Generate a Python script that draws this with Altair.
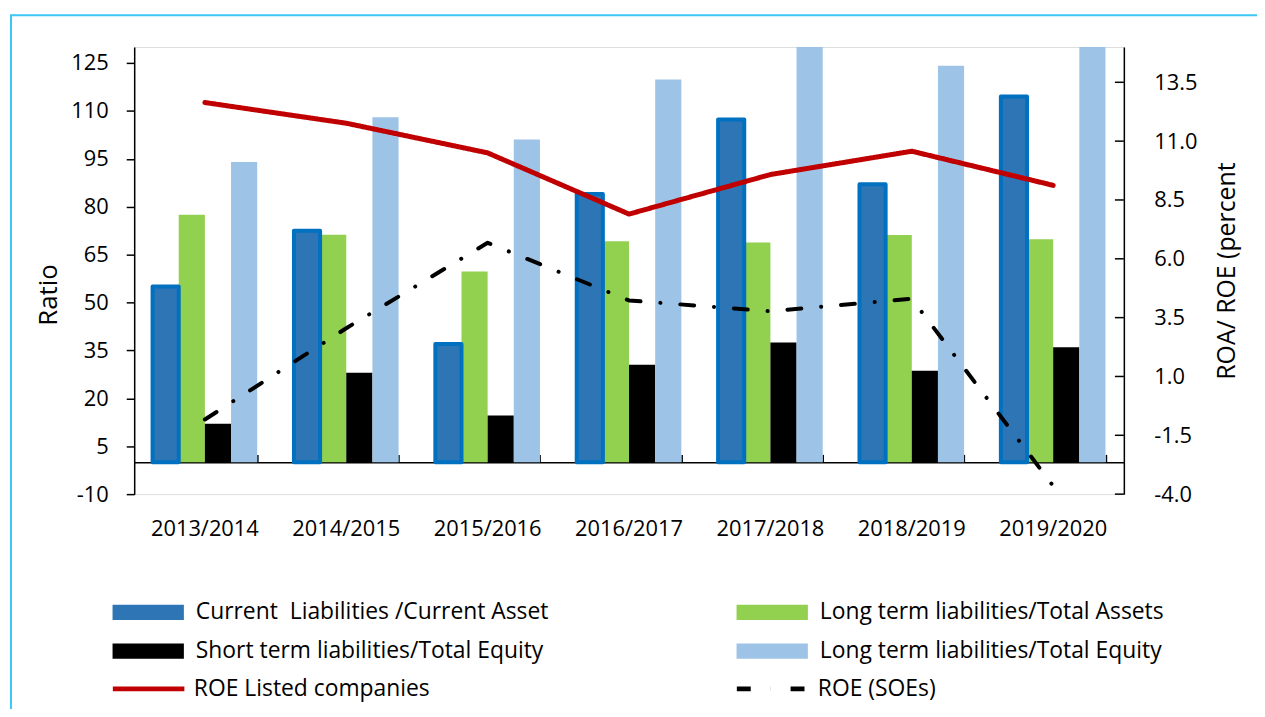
import altair as alt
import pandas as pd

years = ["2013/2014", "2014/2015", "2015/2016", "2016/2017", "2017/2018", "2018/2019", "2019/2020"]
bar_names = [
    "Current\u00a0 Liabilities /Current Asset",
    "Long term liabilities/Total Assets",
    "Short term liabilities/Total Equity",
    "Long term liabilities/Total Equity",
]
cl_ca = [55.0, 72.5, 37.0, 84.0, 107.3, 87.0, 114.5]
ltl_ta = [77.5, 71.2, 59.7, 69.2, 68.8, 71.1, 69.8]
stl_te = [12.0, 28.0, 14.6, 30.5, 37.5, 28.6, 36.0]
ltl_te = [94.0, 108.0, 101.0, 119.8, 133.0, 124.1, 136.0]

line_names = ["ROE Listed companies", "ROE (SOEs)"]
roe_listed = [12.64, 11.76, 10.5, 7.9, 9.58, 10.57, 9.12]
roe_soe = [-0.83, 3.05, 6.68, 4.23, 3.77, 4.3, -3.65]

left_ticks = [-10, 5, 20, 35, 50, 65, 80, 95, 110, 125]
right_ticks = [-4.0, -1.5, 1.0, 3.5, 6.0, 8.5, 11.0, 13.5]

bar_fill = ["#2E75B6", "#92D050", "#000000", "#9DC3E6"]
bar_border = "#0070C0"
line_colors = ["#C00000", "#000000"]

FONT = "Open Sans"
W, H = 996, 450
MINUS = "\u2212"

rows = []
for name, vals in zip(bar_names, [cl_ca, ltl_ta, stl_te, ltl_te]):
    for y, v in zip(years, vals):
        rows.append({"year": y, "series": name, "ratio": v})
bars_df = pd.DataFrame(rows)

lrows = []
for name, vals in zip(line_names, [roe_listed, roe_soe]):
    for y, v in zip(years, vals):
        lrows.append({"year": y, "line": name, "roe": v})
lines_df = pd.DataFrame(lrows)

ticks_df = pd.DataFrame({"roe": right_ticks})

xscale = alt.Scale(domain=years, paddingInner=0.26, paddingOuter=0.13)
xoff_scale = alt.Scale(domain=bar_names, paddingInner=0, paddingOuter=0)
yleft_scale = alt.Scale(domain=[-10, 130], nice=False, zero=False)

bar_path = "M-1,-0.21H1V0.21H-1Z"
bar_legend = alt.Legend(
    orient="none", legendX=-22, legendY=558, columns=2, direction="horizontal", title=None,
    symbolType=bar_path, symbolSize=5184, symbolStrokeWidth=0,
    labelFont=FONT, labelFontSize=23, labelColor="#000000", labelOffset=12,
    columnPadding=188, rowPadding=16, clipHeight=22, padding=0, labelLimit=0,
)

bars = alt.Chart(bars_df).mark_bar(clip=True).encode(
    x=alt.X("year:N", scale=xscale, sort=years,
            axis=alt.Axis(orient="bottom", title=None, domain=False, ticks=False,
                          labelFont=FONT, labelFontSize=22, labelColor="#000000",
                          labelPadding=25, labelAngle=0)),
    xOffset=alt.XOffset("series:N", sort=bar_names, scale=xoff_scale),
    y=alt.Y("ratio:Q", scale=yleft_scale,
            axis=alt.Axis(orient="left", values=left_ticks, title="Ratio", grid=False,
                          labelExpr=f"replace(format(datum.value, 'd'), '{MINUS}', '-')",
                          domainColor="#000000", domainWidth=1.5, tickColor="#000000",
                          tickWidth=1.5, tickSize=8, labelFont=FONT, labelFontSize=22,
                          labelColor="#000000", labelPadding=18, titleFont=FONT,
                          titleFontSize=26, titleFontWeight="normal", titleColor="#000000",
                          titleX=-73, titleY=249, titleAngle=-90)),
    fill=alt.Fill("series:N", sort=bar_names,
                  scale=alt.Scale(domain=bar_names, range=bar_fill), legend=bar_legend),
)

border = alt.Chart(bars_df).transform_filter(
    alt.datum.series == bar_names[0]
).mark_bar(clip=True, filled=False, fill="transparent", stroke=bar_border,
           strokeWidth=4, strokeJoin="round").encode(
    x=alt.X("year:N", scale=xscale, sort=years, axis=None),
    xOffset=alt.XOffset("series:N", sort=bar_names, scale=xoff_scale),
    y=alt.Y("ratio:Q", scale=yleft_scale, axis=None),
)

line_legend = alt.Legend(
    orient="none", legendX=-24, legendY=635, columns=2, direction="horizontal", title=None,
    symbolType="stroke", symbolSize=5184, symbolStrokeWidth=5,
    labelFont=FONT, labelFontSize=23, labelColor="#000000", labelOffset=7,
    columnPadding=306, clipHeight=22, padding=0, labelLimit=0,
)

lines = alt.Chart(lines_df).mark_line(strokeCap="round", strokeJoin="round").encode(
    x=alt.X("year:N", scale=xscale, sort=years,
            axis=alt.Axis(orient="top", offset=-418, labels=False, title=None,
                          domain=True, domainColor="#000000", domainWidth=1.5,
                          ticks=True, tickBand="extent", tickSize=8,
                          tickColor="#000000", tickWidth=1.5)),
    y=alt.Y("roe:Q", scale=alt.Scale(domain=[-4, 15], nice=False, zero=False),
            axis=alt.Axis(orient="right", values=right_ticks,
                          labelExpr=f"replace(format(datum.value, '.1f'), '{MINUS}', '-')",
                          title="ROA/ ROE (percent", grid=False, domainColor="#000000",
                          domainWidth=1.5, ticks=False, labelFont=FONT,
                          labelFontSize=22, labelColor="#000000", labelPadding=30,
                          titleFont=FONT, titleFontSize=25, titleFontWeight="normal",
                          titleColor="#000000", titleAngle=-90, titleX=116, titleY=225)),
    stroke=alt.Stroke("line:N", sort=line_names,
                      scale=alt.Scale(domain=line_names, range=line_colors), legend=line_legend),
    strokeDash=alt.StrokeDash("line:N", sort=line_names,
                              scale=alt.Scale(domain=line_names, range=[[1, 0], [14, 20, 0.1, 20]]),
                              legend=line_legend),
    strokeWidth=alt.condition("datum.line == 'ROE Listed companies'", alt.value(5), alt.value(4)),
    order=alt.Order("year:N"),
)

rticks = alt.Chart(ticks_df).mark_rule(color="#000000", strokeWidth=1.5).encode(
    y=alt.Y("roe:Q"),
    x=alt.value(W - 9),
    x2=alt.value(W),
)

right_layer = alt.layer(lines, rticks)

one = alt.Data(values=[{"a": 1}])
frame_left = alt.Chart(one).mark_rule(color="#3DC7F4", strokeWidth=2).encode(
    x=alt.value(-124), y=alt.value(-32), y2=alt.value(680))
frame_top = alt.Chart(one).mark_rule(color="#3DC7F4", strokeWidth=2).encode(
    x=alt.value(-125), x2=alt.value(1140), y=alt.value(-32))

chart = alt.layer(frame_left, frame_top, bars, border, right_layer).resolve_scale(
    y="independent", stroke="independent", strokeDash="independent"
).resolve_axis(x="independent").properties(
    width=W, height=H,
    autosize=alt.AutoSizeParams(type="none"),
    padding={"left": 127, "top": 37, "right": 134, "bottom": 214},
).configure_view(stroke=None).configure(font=FONT)

chart.save("out.html", embed_options={"renderer": "svg", "actions": False})
